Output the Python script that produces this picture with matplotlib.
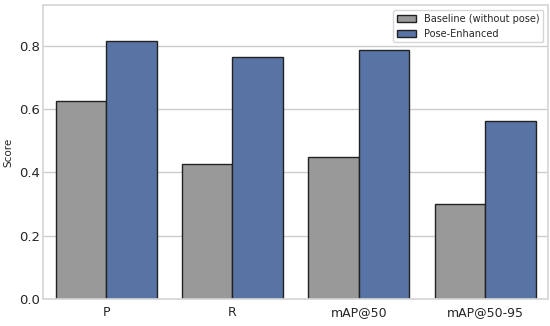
import matplotlib
matplotlib.use("Agg")
import matplotlib.pyplot as plt
import numpy as np
import seaborn as sns

metrics = ["P", "R", "mAP@50", "mAP@50-95"]
baseline = [0.627, 0.428, 0.450, 0.300]
pose = [0.815, 0.764, 0.786, 0.562]

sns.set_theme(style="whitegrid")
plt.rcParams['font.family'] = ['DejaVu Sans']

fig, ax = plt.subplots(figsize=(5.5, 3.26), dpi=100)
x = np.arange(len(metrics))
w = 0.4
ax.bar(x - w / 2, baseline, w, color="#999999", edgecolor="#222222", linewidth=1,
       label="Baseline (without pose)")
ax.bar(x + w / 2, pose, w, color="#5874a4", edgecolor="#222222", linewidth=1,
       label="Pose-Enhanced")
ax.set_xticks(x)
ax.set_xticklabels(metrics, fontsize=9)
ax.tick_params(axis="y", labelsize=9.5, pad=2, length=0)
ax.tick_params(axis="x", pad=5, length=0)
ax.set_xlim(-0.5, 3.5)
ax.set_ylim(0, 0.93)
ax.set_yticks([0, 0.2, 0.4, 0.6, 0.8])
ax.set_ylabel("Score", fontsize=7.5)
ax.yaxis.set_label_coords(-0.058, 0.5)
ax.xaxis.grid(False)
for s in ax.spines.values():
    s.set_color("#d6d6d6")
ax.legend(loc="upper right", fontsize=7)
plt.subplots_adjust(left=0.078, right=0.997, top=0.985, bottom=0.083)
plt.savefig("out.png")
